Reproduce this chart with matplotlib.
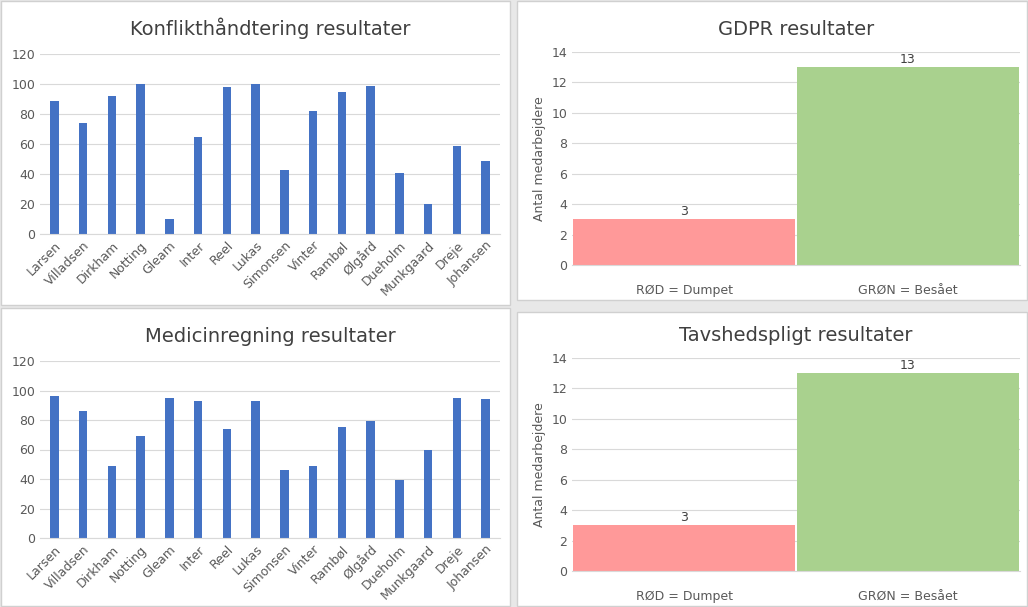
import matplotlib.pyplot as plt
from matplotlib.patches import Rectangle

names = ["Larsen","Villadsen","Dirkham","Notting","Gleam","Inter","Reel","Lukas",
         "Simonsen","Vinter","Rambøl","Ølgård","Dueholm","Munkgaard","Dreje","Johansen"]
konflikt = [89,74,92,100,10,65,98,100,43,82,95,99,41,20,59,49]
medicin = [96,86,49,69,95,93,74,93,46,49,75,79,39,60,95,94]
status_labels = ["RØD = Dumpet", "GRØN = Besået"]
gdpr = [3, 13]
tavshed = [3, 13]

W, H = 1028, 607
fig = plt.figure(figsize=(W/100, H/100), dpi=100)
fig.patch.set_facecolor("#e8e8e8")

def box(x0, y0, x1, y1):
    fig.patches.append(Rectangle((x0/W, 1-y1/H), (x1-x0)/W, (y1-y0)/H,
                       transform=fig.transFigure, facecolor="white", edgecolor="#d0d0d0",
                       lw=1, zorder=-10))

def ax_px(x0, y0, x1, y1):
    ax = fig.add_axes([x0/W, 1-y1/H, (x1-x0)/W, (y1-y0)/H])
    ax.set_zorder(5)
    ax.patch.set_alpha(0)
    return ax

def style(ax):
    for s in ["top","right","left"]:
        ax.spines[s].set_visible(False)
    ax.spines["bottom"].set_color("#d9d9d9")
    ax.grid(axis="y", color="#d9d9d9", lw=0.8)
    ax.set_axisbelow(True)
    ax.tick_params(length=0, labelsize=9, colors="#595959")

def names_chart(box_xy, ax_xy, vals, title):
    box(*box_xy)
    ax = ax_px(*ax_xy)
    style(ax)
    ax.bar(range(len(names)), vals, width=0.3, color="#4472c4")
    ax.set_xlim(-0.5, len(names)-0.5)
    ax.set_ylim(0, 120)
    ax.set_yticks(range(0, 121, 20))
    ax.set_xticks(range(len(names)))
    ax.set_xticklabels(names, rotation=45, ha="right", rotation_mode="anchor")
    ax.set_title(title, fontsize=14, color="#404040", pad=14)

def status_chart(box_xy, ax_xy, vals, title):
    box(*box_xy)
    ax = ax_px(*ax_xy)
    style(ax)
    bars = ax.bar([0, 1], vals, width=0.995, color=["#ff9999", "#a9d18e"])
    for b, v in zip(bars, vals):
        ax.text(b.get_x()+b.get_width()/2, v+0.1, str(v), ha="center", va="bottom",
                fontsize=9, color="#404040")
    ax.set_xlim(-0.5, 1.5)
    ax.set_ylim(0, 14)
    ax.set_yticks(range(0, 15, 2))
    ax.set_xticks([0, 1])
    ax.set_xticklabels(status_labels)
    ax.tick_params(axis="x", pad=14)
    ax.set_ylabel("Antal medarbejdere", fontsize=9, color="#595959")
    ax.set_title(title, fontsize=14, color="#404040", pad=12)

names_chart((1, 1, 510, 305), (40, 54, 500, 234), konflikt, "Konflikthåndtering resultater")
names_chart((1, 308, 510, 606), (40, 361, 500, 538), medicin, "Medicinregning resultater")
status_chart((517, 1, 1027, 300), (572, 52, 1020, 265), gdpr, "GDPR resultater")
status_chart((517, 312, 1027, 606), (572, 358, 1020, 571), tavshed, "Tavshedspligt resultater")

fig.savefig("out.png", dpi=100, facecolor=fig.get_facecolor())
